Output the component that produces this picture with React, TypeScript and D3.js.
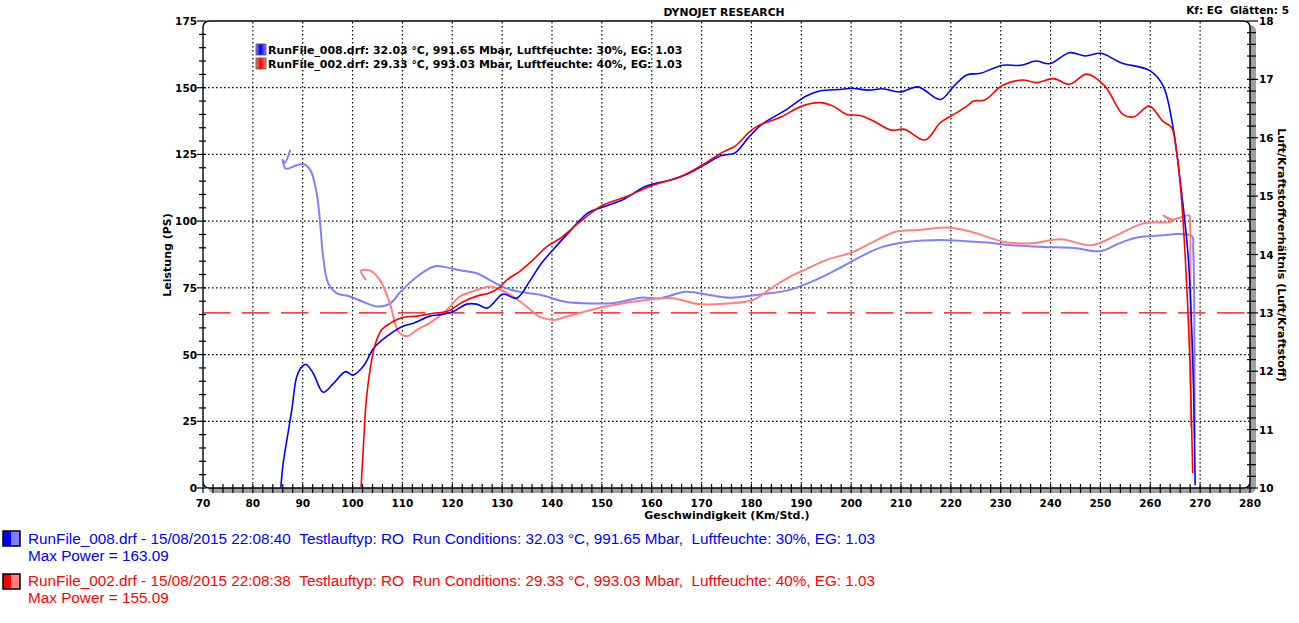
import * as d3 from 'd3';

const W = 1299;
const H = 623;

// run 008 power (km/h, PS)
const run008Power: [number, number][] = [
  [85.6, 0], [86.0, 8], [86.6, 15.5], [87.8, 29.2], [88.8, 41.7], [89.8, 45.4], [90.7, 46.3],
  [92.1, 43.0], [94.1, 35.9], [96.1, 39.0], [98.6, 43.6], [100.1, 42.3], [102.2, 45.7],
  [104.2, 52.3], [106.8, 56.7], [110.2, 60.7], [112.2, 61.7], [115.5, 64.4], [117.5, 64.9],
  [120.2, 66.1], [122.9, 68.9], [124.9, 68.9], [127.0, 67.4], [128.2, 69.2], [130.2, 72.7],
  [132.9, 71.1], [135.6, 77.7], [137.6, 83.5], [140.3, 89.5], [142.7, 94.4], [147.2, 103.1],
  [149.8, 105], [154.3, 108.1], [158.8, 113.1], [164.2, 115.6], [166.9, 117.5], [170.4, 120.9],
  [174.0, 124.6], [176.7, 125.6], [179.4, 131.3], [182.1, 136.3], [186.6, 141.3], [191.0, 146.9],
  [193.7, 148.8], [198.2, 149.4], [200.0, 149.8], [203.6, 149.1], [206.3, 149.6], [209.8, 148.4],
  [213.4, 150.3], [217.9, 145.6], [220.6, 150.6], [223.2, 154.8], [225.9, 155.4], [230.4, 158.4],
  [234.0, 158.4], [237.1, 160], [239.8, 159], [243.8, 163.1], [247.0, 161.9], [250.1, 162.9],
  [254.1, 159.4], [260.0, 156.3], [262.6, 150.6], [264.4, 136.9], [266.2, 111.9], [267.6, 86.9],
  [268.3, 60], [268.7, 35], [269.0, 1],
];

// run 002 power (km/h, PS)
const run002Power: [number, number][] = [
  [101.7, 0], [102.2, 16.7], [102.7, 31.7], [103.5, 44.2], [104.5, 53.6], [105.8, 59.2],
  [107.5, 61.7], [110.2, 64.0], [112.9, 64.4], [116.2, 65.5], [118.9, 66.1], [122.2, 69.8],
  [124.9, 71.9], [127.6, 73.2], [129.6, 75.4], [130.9, 77.9], [133.6, 81.3], [136.2, 85.5],
  [138.9, 90.4], [141.6, 93.5], [145.4, 99.4], [149.8, 105.6], [155.2, 109.4], [159.7, 113.1],
  [166.0, 116.9], [170.4, 121.3], [174.0, 125.6], [176.7, 128.1], [179.4, 133.1], [181.2, 135.6],
  [185.7, 138.8], [190.1, 143.1], [193.7, 144.4], [196.4, 143.1], [199.1, 140], [201.8, 139.6],
  [204.5, 137.5], [208.0, 134.1], [210.7, 134.4], [214.8, 130.4], [217.9, 136.9], [220.6, 140],
  [223.2, 143.1], [224.6, 145], [226.8, 145.4], [230.4, 150.9], [234.4, 152.9], [237.1, 151.9],
  [240.6, 153.4], [243.8, 151.3], [247.3, 155.1], [250.9, 150.6], [254.5, 140], [256.7, 139.1],
  [259.8, 143.1], [262.5, 137.5], [264.3, 135], [265.2, 126.9], [266.1, 111.9], [267.0, 86.9],
  [267.9, 50], [268.5, 5.5],
];

// run 008 air/fuel ratio (km/h, AFR)
const run008Afr: [number, number][] = [
  [87.5, 15.79], [86.4, 15.57], [86.0, 15.62], [86.6, 15.47], [88.8, 15.53], [90.1, 15.55],
  [91.5, 15.45], [92.8, 15.05], [93.5, 14.53], [94.1, 13.96], [95.1, 13.51], [96.8, 13.34],
  [99.5, 13.28], [102.1, 13.19], [104.8, 13.11], [107.5, 13.16], [109.5, 13.35], [112.9, 13.62],
  [116.2, 13.79], [117.5, 13.8], [121.5, 13.73], [124.9, 13.68], [128.2, 13.53], [130.9, 13.42],
  [133.6, 13.36], [137.6, 13.31], [142.7, 13.19], [148.1, 13.16], [152.5, 13.17], [157.9, 13.26],
  [161.5, 13.25], [166.9, 13.36], [171.3, 13.31], [175.8, 13.26], [182.1, 13.32], [187.5, 13.39],
  [192.8, 13.56], [198.2, 13.79], [201.8, 13.96], [206.3, 14.13], [211.6, 14.22], [217.9, 14.25],
  [222.4, 14.23], [226.8, 14.21], [232.2, 14.16], [238.5, 14.13], [244.7, 14.11], [250.1, 14.06],
  [253.7, 14.19], [257.3, 14.29], [262.7, 14.33], [265.3, 14.35], [268.4, 14.31], [268.6, 14.1],
  [268.8, 13.3], [268.9, 10.85],
];

// run 002 air/fuel ratio (km/h, AFR)
const run002Afr: [number, number][] = [
  [102.7, 13.56], [101.7, 13.72], [103.6, 13.72], [105.5, 13.56], [107.5, 13.16], [109.2, 12.68],
  [110.9, 12.6], [112.9, 12.71], [115.5, 12.83], [118.9, 13.05], [121.5, 13.28], [124.9, 13.39],
  [127.6, 13.45], [129.6, 13.4], [132.2, 13.28], [134.9, 13.11], [137.6, 12.93], [140.5, 12.88],
  [142.7, 12.93], [150.7, 13.11], [159.7, 13.23], [164.2, 13.25], [169.5, 13.15], [174.9, 13.16],
  [180.3, 13.22], [183.9, 13.42], [187.5, 13.61], [191.0, 13.75], [195.5, 13.92], [200.0, 14.03],
  [204.5, 14.22], [208.9, 14.39], [213.4, 14.42], [219.7, 14.46], [224.1, 14.39], [230.4, 14.22],
  [235.8, 14.19], [242.0, 14.26], [248.2, 14.16], [252.8, 14.31], [258.1, 14.52], [260.5, 14.55],
  [264.3, 14.56], [262.6, 14.67], [264.5, 14.6], [266.6, 14.65], [267.8, 14.67], [268.0, 14.45],
  [268.05, 13.6], [268.1, 11.05],
];

const xTicks = d3.range(70, 281, 10);
const leftTicks = d3.range(0, 176, 25);
const rightTicks = d3.range(10, 19, 1);
const afrTarget = 13;

const legendInside = [
  { text: 'RunFile_008.drf: 32.03 °C, 991.65 Mbar, Luftfeuchte: 30%, EG: 1.03', dark: '#0000ff', light: '#8080ff' },
  { text: 'RunFile_002.drf: 29.33 °C, 993.03 Mbar, Luftfeuchte: 40%, EG: 1.03', dark: '#ff0000', light: '#ff8080' },
];
const legendBottom = [
  {
    line1: 'RunFile_008.drf - 15/08/2015 22:08:40  Testlauftyp: RO  Run Conditions: 32.03 °C, 991.65 Mbar,  Luftfeuchte: 30%, EG: 1.03',
    line2: 'Max Power = 163.09',
    color: '#0000ff', light: '#8080ff',
  },
  {
    line1: 'RunFile_002.drf - 15/08/2015 22:08:38  Testlauftyp: RO  Run Conditions: 29.33 °C, 993.03 Mbar,  Luftfeuchte: 40%, EG: 1.03',
    line2: 'Max Power = 155.09',
    color: '#ff0000', light: '#ff8080',
  },
];

const left = 203, right = 1250, top = 21, bottom = 488;
const bold = 'DejaVu Sans, Verdana, sans-serif';

// keep double spaces visible in svg text
const keepSpaces = (s: string) => s.replace(/  /g, ' \u00a0');

export default function App() {
  const x = d3.scaleLinear().domain([70, 280]).range([left, right]);
  const yL = d3.scaleLinear().domain([0, 175]).range([bottom, top]);
  const yR = d3.scaleLinear().domain([10, 18]).range([bottom, top]);

  const lineL = d3.line<[number, number]>()
    .x(d => x(d[0])).y(d => yL(d[1]))
    .curve(d3.curveCatmullRom.alpha(0.5));
  const lineR = d3.line<[number, number]>()
    .x(d => x(d[0])).y(d => yR(d[1]))
    .curve(d3.curveCatmullRom.alpha(0.5));

  const minorX = d3.range(70, 281, 2);
  const minorL = d3.range(0, 176, 5);
  const minorR = d3.range(10, 18.01, 0.2);

  return (
    <svg width={W} height={H} style={{ position: 'absolute', left: 0, top: 0, background: '#fff' }}>
      <defs>
        <clipPath id="plot">
          <rect x={left} y={top} width={right - left} height={bottom - top + 1} />
        </clipPath>
        {legendInside.map((l, i) => (
          <linearGradient key={i} id={`sw${i}`} x1="0" x2="1" y1="0" y2="0">
            <stop offset="0" stopColor={l.light} />
            <stop offset="0.45" stopColor={l.dark} />
            <stop offset="1" stopColor={l.light} />
          </linearGradient>
        ))}
      </defs>

      <text x={724} y={16} textAnchor="middle" fontFamily={bold} fontWeight="bold" fontSize={10.8}>DYNOJET RESEARCH</text>
      <text x={1289} y={14} textAnchor="end" fontFamily={bold} fontWeight="bold" fontSize={10.5}>{keepSpaces('Kf: EG  Glätten: 5')}</text>

      {/* frame with shadow */}
      <rect x={left + 5} y={top + 4} width={right - left + 1} height={bottom - top + 1} rx={6} fill="#a0a0a0" />
      <rect x={left} y={top} width={right - left} height={bottom - top} rx={6} fill="#fff" stroke="#000" strokeWidth={1.5} />
      <line x1={left} x2={left} y1={top + 6} y2={bottom - 6} stroke="#505050" strokeWidth={2} />

      {/* grid */}
      <g stroke="#000" strokeWidth={1.2} strokeDasharray="1.5,2.5">
        {xTicks.filter(t => t > 70 && t < 280).map(t => (
          <line key={'gx' + t} x1={x(t)} x2={x(t)} y1={top + 1} y2={bottom - 1} />
        ))}
        {leftTicks.filter(t => t > 0 && t < 175).map(t => (
          <line key={'gy' + t} x1={left + 1} x2={right - 1} y1={yL(t)} y2={yL(t)} />
        ))}
      </g>

      <line x1={left} x2={right} y1={yR(afrTarget)} y2={yR(afrTarget)} stroke="#ff0000" strokeWidth={1.2} strokeDasharray="27.5,11.5" />

      {/* legend inside */}
      {legendInside.map((l, i) => (
        <g key={i}>
          <rect x={256} y={44 + i * 14} width={10} height={11} fill={`url(#sw${i})`} stroke="#555" strokeWidth={0.8} />
          <text x={268} y={54 + i * 14} fontFamily={bold} fontWeight="bold" fontSize={10.95}>{l.text}</text>
        </g>
      ))}

      {/* curves */}
      <g clipPath="url(#plot)" fill="none">
        <path d={lineR(run008Afr) ?? ''} stroke="#8080ff" strokeWidth={2} />
        <path d={lineR(run002Afr) ?? ''} stroke="#ff8080" strokeWidth={2} />
        <path d={lineL(run008Power) ?? ''} stroke="#0000ff" strokeWidth={1.6} />
        <path d={lineL(run002Power) ?? ''} stroke="#ff0000" strokeWidth={1.6} />
      </g>

      {/* axes ticks */}
      <g stroke="#000" strokeWidth={1.2}>
        {minorX.map(t => (
          <line key={'tx' + t} x1={x(t)} x2={x(t)} y1={bottom - 4} y2={bottom + 5} />
        ))}
        {minorL.map(t => (
          <line key={'tl' + t} x1={t % 25 === 0 ? left - 6 : left - 4} x2={left + 3} y1={yL(t)} y2={yL(t)} />
        ))}
        {minorR.map(t => {
          const major = Math.abs(t - Math.round(t)) < 1e-6;
          return <line key={'tr' + t.toFixed(1)} x1={right - 3} x2={major ? right + 8 : right + 6} y1={yR(t)} y2={yR(t)} />;
        })}
      </g>

      {/* tick labels */}
      <g fontFamily={bold} fontWeight="bold" fontSize={10.5}>
        {xTicks.map(t => (
          <text key={'lx' + t} x={x(t)} y={507} textAnchor="middle">{t}</text>
        ))}
        {leftTicks.map(t => (
          <text key={'ll' + t} x={197} y={yL(t) + 4} textAnchor="end">{t}</text>
        ))}
        {rightTicks.map(t => (
          <text key={'lr' + t} x={1259} y={yR(t) + 4}>{t}</text>
        ))}
      </g>

      {/* axis titles */}
      <text x={727} y={519} textAnchor="middle" fontFamily={bold} fontWeight="bold" fontSize={11}>Geschwindigkeit (Km/Std.)</text>
      <text transform="translate(171,255) rotate(-90)" textAnchor="middle" fontFamily={bold} fontWeight="bold" fontSize={11}>Leistung (PS)</text>
      <text transform="translate(1278,255) rotate(90)" textAnchor="middle" fontFamily={bold} fontWeight="bold" fontSize={11}>Luft/Kraftstoffverhältnis (Luft/Kraftstoff)</text>

      {/* bottom legend */}
      {legendBottom.map((l, i) => (
        <g key={i} fontFamily="Liberation Sans, Arial, sans-serif" fontSize={15.3} fill={l.color}>
          <rect x={3} y={531 + i * 43} width={8.5} height={15} fill={l.color} />
          <rect x={11.5} y={531 + i * 43} width={8.5} height={15} fill={l.light} />
          <rect x={3} y={531 + i * 43} width={17} height={15} fill="none" stroke="#000" strokeWidth={1.5} />
          <text x={28} y={544 + i * 42}>{keepSpaces(l.line1)}</text>
          <text x={28} y={561 + i * 42}>{l.line2}</text>
        </g>
      ))}
    </svg>
  );
}
